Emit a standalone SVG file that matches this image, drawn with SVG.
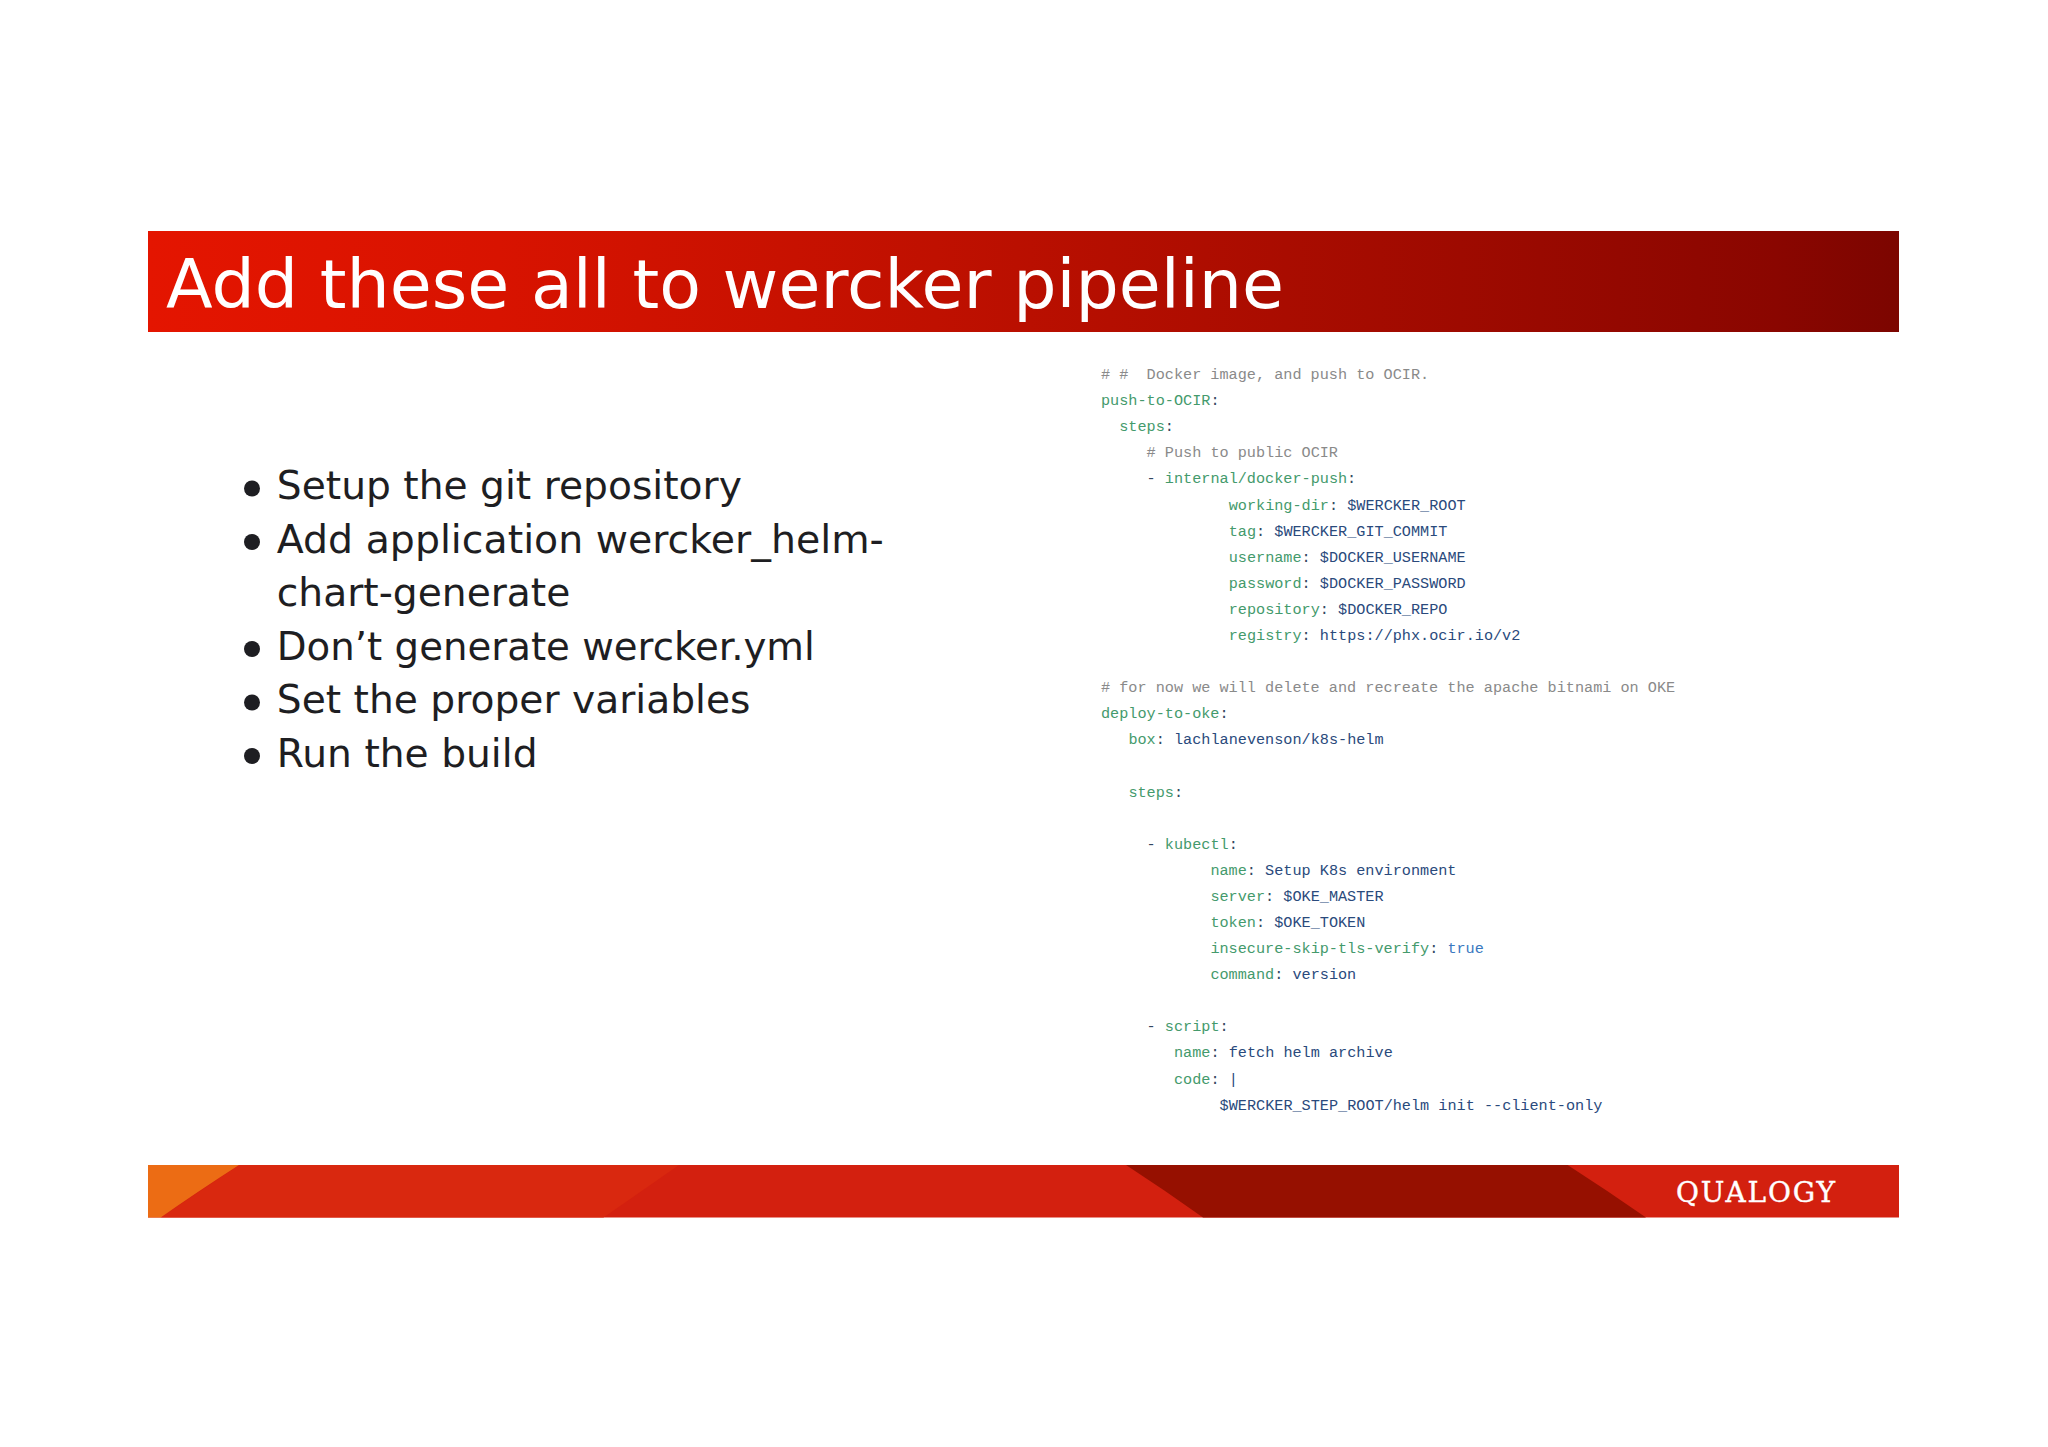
<svg xmlns="http://www.w3.org/2000/svg" width="2048" height="1447" viewBox="0 0 2048 1447">
<style>
.b{font-family:"DejaVu Sans",sans-serif;font-size:39.2px;fill:#1e1e22}
.m{font-family:"Liberation Mono",monospace;font-size:15.2px;fill:#33475f;white-space:pre}
.c{fill:#8a8a8a}.k{fill:#449a6c}.v{fill:#2a4a7c}.t{fill:#3a78c0}
</style>
<defs>
<linearGradient id="tg" x1="0" x2="1" y1="0" y2="0">
<stop offset="0" stop-color="#e41500"/><stop offset="0.2" stop-color="#d81300"/><stop offset="0.45" stop-color="#bf1000"/><stop offset="0.75" stop-color="#9e0a00"/><stop offset="0.93" stop-color="#8a0600"/><stop offset="1" stop-color="#7c0500"/>
</linearGradient>
</defs>
<rect width="2048" height="1447" fill="#fff"/>
<g id="title">
<rect x="148" y="231" width="1751" height="101" fill="url(#tg)"/>
<text x="166" y="308" font-family="DejaVu Sans, sans-serif" font-size="68.3" fill="#fff" textLength="1118" lengthAdjust="spacingAndGlyphs">Add these all to wercker pipeline</text>
</g>
<g id="bullets">
<circle cx="252" cy="488.500" r="8" fill="#1e1e22"/><text class="b" x="276.800" y="499">Setup the git repository</text>
<circle cx="252" cy="542" r="8" fill="#1e1e22"/><text class="b" x="276.800" y="552.500" textLength="607" lengthAdjust="spacingAndGlyphs">Add application wercker_helm-</text>
<text class="b" x="276.800" y="606">chart-generate</text>
<circle cx="252" cy="649" r="8" fill="#1e1e22"/><text class="b" x="276.800" y="659.500" textLength="538" lengthAdjust="spacingAndGlyphs">Don’t generate wercker.yml</text>
<circle cx="252" cy="702.500" r="8" fill="#1e1e22"/><text class="b" x="276.800" y="713">Set the proper variables</text>
<circle cx="252" cy="756" r="8" fill="#1e1e22"/><text class="b" x="276.800" y="766.500">Run the build</text>
</g>
<g id="code">
<text class="m c" x="1101" y="379"># #  Docker image, and push to OCIR.</text>
<text class="m" x="1101" y="405.100"><tspan class="k">push-to-OCIR</tspan>:</text>
<text class="m" x="1119.200" y="431.200"><tspan class="k">steps</tspan>:</text>
<text class="m c" x="1146.600" y="457.300"># Push to public OCIR</text>
<text class="m" x="1146.600" y="483.400">- <tspan class="k">internal/docker-push</tspan>:</text>
<text class="m" x="1228.700" y="509.500"><tspan class="k">working-dir</tspan>: <tspan class="v">$WERCKER_ROOT</tspan></text>
<text class="m" x="1228.700" y="535.600"><tspan class="k">tag</tspan>: <tspan class="v">$WERCKER_GIT_COMMIT</tspan></text>
<text class="m" x="1228.700" y="561.700"><tspan class="k">username</tspan>: <tspan class="v">$DOCKER_USERNAME</tspan></text>
<text class="m" x="1228.700" y="587.800"><tspan class="k">password</tspan>: <tspan class="v">$DOCKER_PASSWORD</tspan></text>
<text class="m" x="1228.700" y="613.800"><tspan class="k">repository</tspan>: <tspan class="v">$DOCKER_REPO</tspan></text>
<text class="m" x="1228.700" y="639.900"><tspan class="k">registry</tspan>: <tspan class="v">https://phx.ocir.io/v2</tspan></text>
<text class="m c" x="1101" y="692.100"># for now we will delete and recreate the apache bitnami on OKE</text>
<text class="m" x="1101" y="718.200"><tspan class="k">deploy-to-oke</tspan>:</text>
<text class="m" x="1128.400" y="744.300"><tspan class="k">box</tspan>: <tspan class="v">lachlanevenson/k8s-helm</tspan></text>
<text class="m" x="1128.400" y="796.500"><tspan class="k">steps</tspan>:</text>
<text class="m" x="1146.600" y="848.700">- <tspan class="k">kubectl</tspan>:</text>
<text class="m" x="1210.400" y="874.800"><tspan class="k">name</tspan>: <tspan class="v">Setup K8s environment</tspan></text>
<text class="m" x="1210.400" y="900.900"><tspan class="k">server</tspan>: <tspan class="v">$OKE_MASTER</tspan></text>
<text class="m" x="1210.400" y="927"><tspan class="k">token</tspan>: <tspan class="v">$OKE_TOKEN</tspan></text>
<text class="m" x="1210.400" y="953.100"><tspan class="k">insecure-skip-tls-verify</tspan>: <tspan class="t">true</tspan></text>
<text class="m" x="1210.400" y="979.200"><tspan class="k">command</tspan>: <tspan class="v">version</tspan></text>
<text class="m" x="1146.600" y="1031.300">- <tspan class="k">script</tspan>:</text>
<text class="m" x="1174" y="1057.400"><tspan class="k">name</tspan>: <tspan class="v">fetch helm archive</tspan></text>
<text class="m" x="1174" y="1083.500"><tspan class="k">code</tspan>: <tspan class="v">|</tspan></text>
<text class="m v" x="1219.600" y="1109.600">$WERCKER_STEP_ROOT/helm init --client-only</text>
</g>
<g id="footer">
<rect x="148" y="1165" width="1751" height="52.500" fill="#d3200f"/>
<polygon points="239,1165 679,1165 603.500,1217.500 160.700,1217.500" fill="#d9280f"/>
<path d="M148,1165H239Q197,1192 160.700,1217.500H148Z" fill="#ec6c14"/>
<path d="M1126,1165H1567.600Q1608,1191 1646,1217.500H1203Q1166,1191 1126,1165Z" fill="#961000"/>
<text x="1676" y="1202" font-family="DejaVu Serif, serif" font-size="28" fill="#fff" stroke="#fff" stroke-width="0.4" textLength="159" lengthAdjust="spacing">QUALOGY</text>
</g>
</svg>
